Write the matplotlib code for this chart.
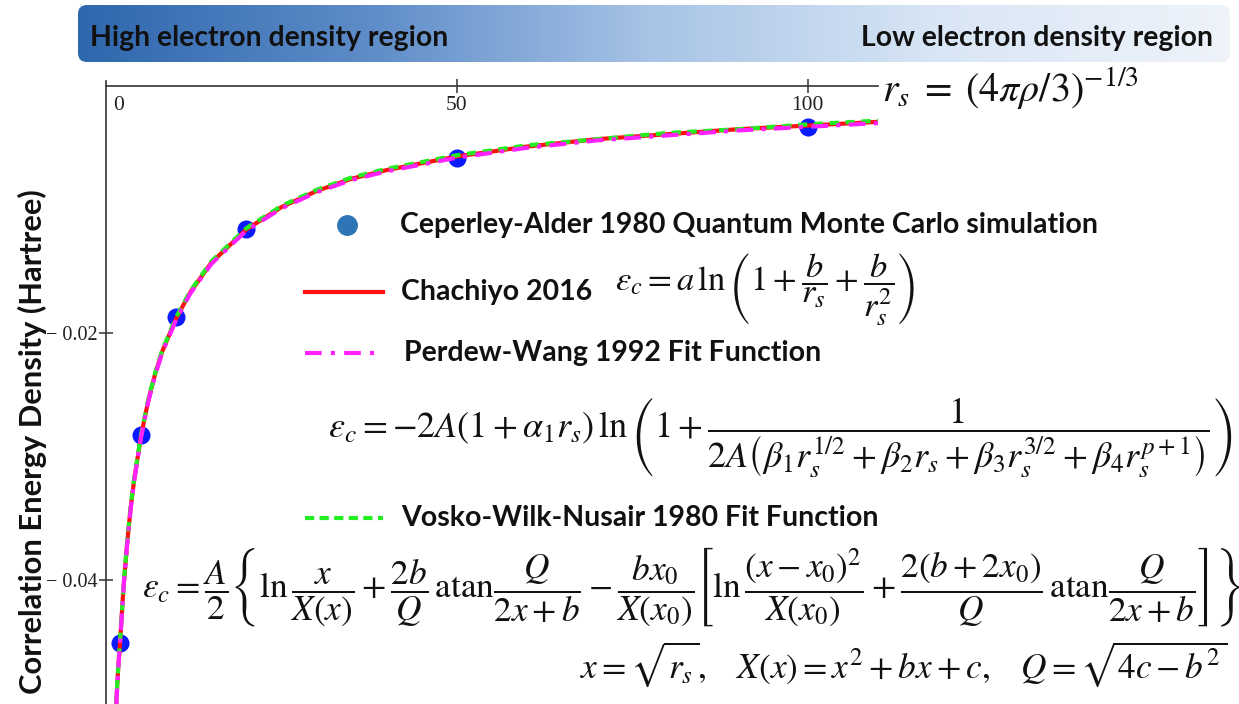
import numpy as np
import matplotlib
matplotlib.use('Agg')
import matplotlib.pyplot as plt
from matplotlib.colors import LinearSegmentedColormap
from matplotlib.patches import FancyBboxPatch
import matplotlib.transforms as mtransforms

plt.rcParams['mathtext.fontset'] = 'stix'

# Ceperley-Alder QMC points (rs, Hartree)
qmc_rs = [2, 5, 10, 20, 50, 100]
qmc_ec = [-0.0451, -0.0282, -0.0187, -0.0116, -0.0058, -0.0033]

# fit curves
curve_rs = [1.3, 1.5, 1.75, 2, 2.5, 3, 3.5, 4, 5, 6, 7, 8, 10, 12, 15, 20,
            25, 30, 35, 40, 50, 60, 70, 80, 90, 100, 110]
chachiyo_ec = [-0.0522, -0.0495, -0.0470, -0.0450, -0.0405, -0.0371, -0.0342,
               -0.0319, -0.0283, -0.0255, -0.0233, -0.0215, -0.0188, -0.0167,
               -0.0143, -0.0116, -0.0098, -0.0085, -0.0075, -0.0068, -0.0057,
               -0.0049, -0.0043, -0.0039, -0.0035, -0.0032, -0.0029]
pw92_ec = [-0.0524, -0.0497, -0.0471, -0.0451, -0.0406, -0.0372, -0.0343,
           -0.0320, -0.0284, -0.0256, -0.0234, -0.0216, -0.0189, -0.0168,
           -0.0144, -0.0117, -0.0099, -0.0086, -0.0076, -0.0069, -0.0058,
           -0.0050, -0.0044, -0.0040, -0.0036, -0.0033, -0.0030]
vwn_ec = [-0.0521, -0.0494, -0.0469, -0.0449, -0.0404, -0.0370, -0.0341,
          -0.0318, -0.0282, -0.0254, -0.0232, -0.0214, -0.0187, -0.0166,
          -0.0142, -0.0115, -0.0097, -0.0084, -0.0074, -0.0067, -0.0056,
          -0.0048, -0.0043, -0.0038, -0.0035, -0.0031, -0.0028]

x_ticks = [0, 50, 100]
y_ticks = [-0.04, -0.02]
y_ticklabels = ['\u2212 0.04', '\u2212 0.02']

W, H = 1239, 704
fig = plt.figure(figsize=(W / 100, H / 100), dpi=100)

ax = fig.add_axes([106 / W, 0, (878 - 106) / W, (H - 86) / H])
ax.plot(curve_rs, chachiyo_ec, color='#ff1010', lw=3, zorder=3)
ax.plot(curve_rs, vwn_ec, color='#22ee22', lw=3, ls=(0, (2.2, 1.6)), zorder=4)
ax.plot(curve_rs, pw92_ec, color='#ff22ff', lw=3, ls=(0, (4, 2, 1, 2)), zorder=5)
ax.plot(qmc_rs, qmc_ec, 'o', color='#0a1aff', ms=12, zorder=2)

ax.set_xlim(0, 110)
ax.set_ylim(-0.05, 0)
ax.patch.set_alpha(0)
for s in ['right', 'bottom']:
    ax.spines[s].set_visible(False)
for s in ['left', 'top']:
    ax.spines[s].set_color('#333333')
    ax.spines[s].set_linewidth(1.2)
ax.spines['left'].set_bounds(-0.05, 0.0004)

ax.xaxis.tick_top()
ax.set_xticks(x_ticks[1:])
ax.tick_params(axis='x', direction='inout', length=10, width=1.1, color='#333333',
               labeltop=False)
ax.set_yticks(y_ticks)
ax.set_yticklabels(y_ticklabels, family='Liberation Serif', fontsize=14.5, color='#222222')
ax.tick_params(axis='y', direction='inout', length=10, width=1.1, color='#333333', pad=1)

tr = mtransforms.blended_transform_factory(ax.transData, ax.transAxes)
for xv in x_ticks:
    off = mtransforms.offset_copy(tr, fig=fig, x=7 if xv == 0 else 0, y=-19, units='dots')
    ax.text(xv, 1, str(xv), transform=off, ha='left' if xv == 0 else 'center',
            va='center', family='Liberation Serif', fontsize=15.5, color='#222222')

# overlay in pixel coordinates
ov = fig.add_axes([0, 0, 1, 1], zorder=10)
ov.set_xlim(0, W)
ov.set_ylim(H, 0)
ov.axis('off')

cmap = LinearSegmentedColormap.from_list('band', ['#2f67ad', '#5d8cc8', '#a8c4e6', '#d9e6f5', '#eef3fa'])
band = FancyBboxPatch((78, 5), 1152, 57, boxstyle='round,pad=0,rounding_size=9',
                      fc='none', ec='none')
ov.add_patch(band)
im = ov.imshow(np.linspace(0, 1, 256)[None, :], cmap=cmap, aspect='auto',
               extent=(78, 1230, 62, 5), zorder=1)
im.set_clip_path(band)
ov.set_xlim(0, W)
ov.set_ylim(H, 0)

renderer = fig.canvas.get_renderer()


def fit(t, target, vertical=False):
    bb = t.get_window_extent(renderer)
    size = bb.height if vertical else bb.width
    t.set_fontsize(t.get_fontsize() * target / size)
    return t.get_fontsize()


bold = dict(family='Lato', weight='bold', color='#111111', va='center')

t = ov.text(400, 225, 'Ceperley-Alder 1980 Quantum Monte Carlo simulation', fontsize=17, **bold)
fs = fit(t, 700)
ov.text(401, 292, 'Chachiyo 2016', fontsize=fs, **bold)
ov.text(404, 353, 'Perdew-Wang 1992 Fit Function', fontsize=fs, **bold)
ov.text(401, 518, 'Vosko-Wilk-Nusair 1980 Fit Function', fontsize=fs, **bold)

t = ov.text(90, 38, 'High electron density region', fontsize=16, **bold)
fb = fit(t, 360)
ov.text(1213, 38, 'Low electron density region', fontsize=fb, ha='right', **bold)

t = ov.text(32, 442, 'Correlation Energy Density (Hartree)', rotation=90, ha='center',
            fontsize=16, **bold)
fit(t, 505, vertical=True)

# legend handles
ov.plot(347, 225, 'o', color='#2e75b6', ms=14)
ov.plot([305, 383], [292, 292], color='#ff1010', lw=3)
ov.plot([305, 383], [353, 353], color='#ff22ff', lw=3, ls=(0, (4, 2.2, 1, 2.2)))
ov.plot([305, 383], [518, 518], color='#22ee22', lw=3, ls=(0, (2.2, 1.3)))

math = dict(color='#111111', va='center', fontsize=20)
formulas = [
    (882, 88, r'$r_s\;=\;(4\pi\rho/3)^{-1/3}$', 258),
    (615, 289, r'$\varepsilon_c = a\,\ln\left(1+\dfrac{b}{r_s}+\dfrac{b}{r_s^2}\right)$', 300),
    (328, 438, r'$\varepsilon_c = -2A(1+\alpha_1 r_s)\,\ln\left(1+\dfrac{1}{2A\left(\beta_1 r_s^{1/2}'
               r'+\beta_2 r_s+\beta_3 r_s^{3/2}+\beta_4 r_s^{p+1}\right)}\right)$', 902),
    (142, 587, r'$\varepsilon_c = \dfrac{A}{2}\left\{\ln\dfrac{x}{X(x)}+\dfrac{2b}{Q}\,\mathrm{atan}'
               r'\dfrac{Q}{2x+b}-\dfrac{bx_0}{X(x_0)}\left[\ln\dfrac{(x-x_0)^2}{X(x_0)}'
               r'+\dfrac{2(b+2x_0)}{Q}\,\mathrm{atan}\dfrac{Q}{2x+b}\right]\right\}$', 1093),
    (580, 664, r'$x=\sqrt{r_s},\quad X(x)=x^2+bx+c,\quad Q=\sqrt{4c-b^2}$', 648),
]
for x, y, s, w in formulas:
    t = ov.text(x, y, s, **math)
    fit(t, w)

fig.savefig('out.png', dpi=100)
